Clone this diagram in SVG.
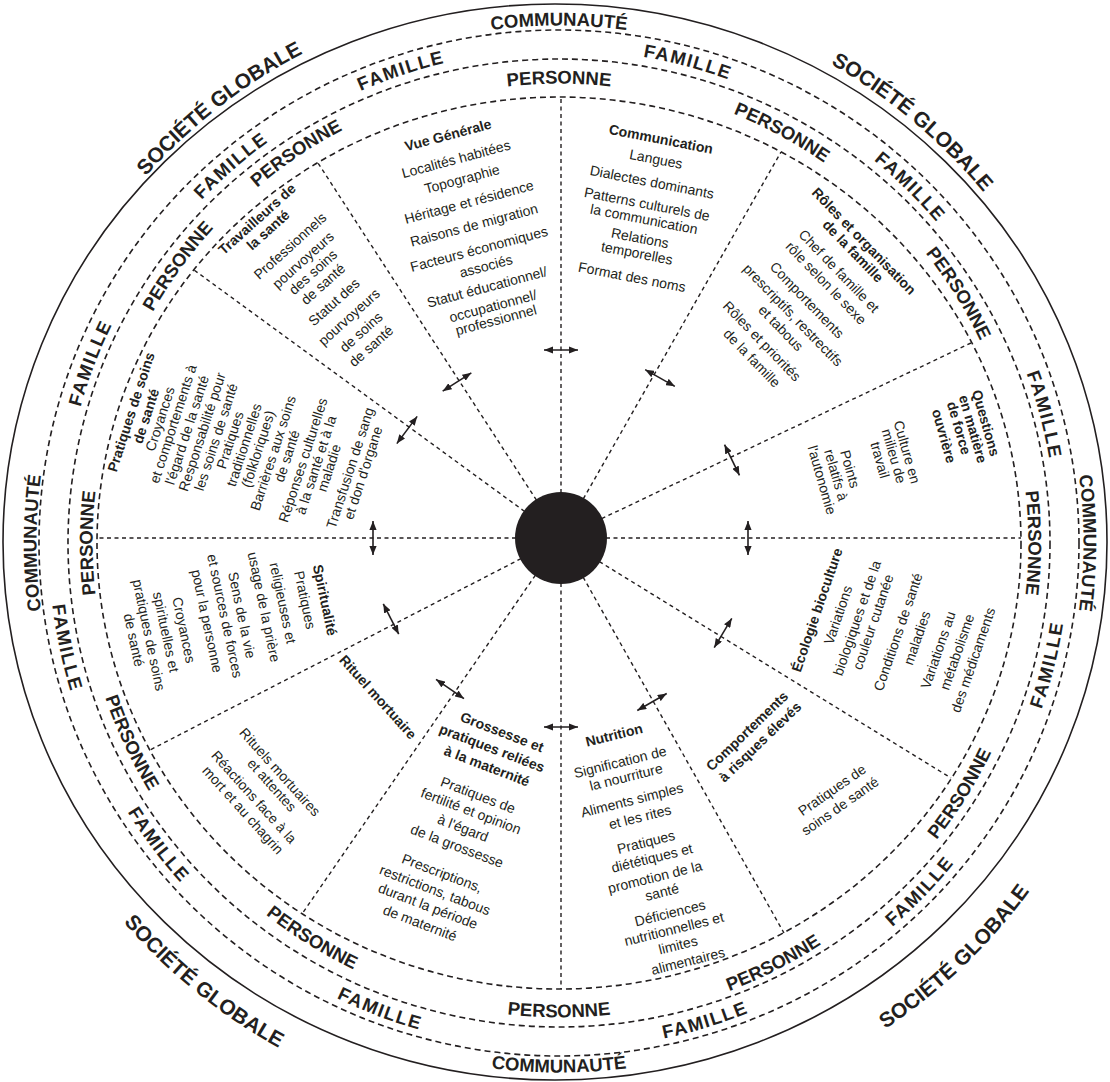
<svg xmlns="http://www.w3.org/2000/svg" width="1110" height="1082" viewBox="0 0 1110 1082">
<style>
.ring{fill:none;stroke:#231f20;stroke-width:1.6;stroke-dasharray:6 4}
.outer{fill:none;stroke:#231f20;stroke-width:1.6}
.spoke{stroke:#231f20;stroke-width:1.4;stroke-dasharray:4 3.5}
.arr{stroke:#231f20;stroke-width:1.6;marker-start:url(#ah);marker-end:url(#ah)}
.t{font-family:"Liberation Sans",Arial,sans-serif;font-size:14px;fill:#231f20;text-anchor:middle}
.b{font-weight:bold}
.lbl{font-family:"Liberation Sans",Arial,sans-serif;font-weight:bold;font-size:18.5px;fill:#231f20;text-anchor:middle}
.fam{letter-spacing:1.5px}
.soc{font-size:21px}
</style>
<defs>
<marker id="ah" viewBox="0 0 10 8" refX="10" refY="4" markerWidth="9" markerHeight="7.2" markerUnits="userSpaceOnUse" orient="auto-start-reverse"><path d="M0,0 L10,4 L0,8 z" fill="#231f20"/></marker>
<path id="so" d="M -557.5 0 A 557.5 557.5 0 0 1 557.5 0"/>
<path id="si" d="M -572.5 0 A 572.5 572.5 0 0 0 572.5 0"/>
<path id="co" d="M -518.5 0 A 518.5 518.5 0 0 1 518.5 0"/>
<path id="ci" d="M -531.5 0 A 531.5 531.5 0 0 0 531.5 0"/>
<path id="fo" d="M -493.5 0 A 493.5 493.5 0 0 1 493.5 0"/>
<path id="fi" d="M -506.5 0 A 506.5 506.5 0 0 0 506.5 0"/>
<path id="po" d="M -463.5 0 A 463.5 463.5 0 0 1 463.5 0"/>
<path id="pi" d="M -476.5 0 A 476.5 476.5 0 0 0 476.5 0"/>
</defs>
<rect width="1110" height="1082" fill="#fff"/>

<g id="rings">
<ellipse class="outer" cx="555" cy="542" rx="552" ry="538"/>
<ellipse class="ring" cx="559" cy="543" rx="520" ry="513"/>
<ellipse class="ring" cx="559" cy="543" rx="491" ry="484"/>
<ellipse class="ring" cx="559" cy="543" rx="462" ry="446"/>
</g>

<g id="ring-labels" transform="translate(559 543)">
<text class="lbl soc" transform="rotate(-38) translate(0 5)"><textPath href="#so" startOffset="50%">SOCIÉTÉ GLOBALE</textPath></text>
<text class="lbl soc" transform="rotate(40) translate(0 7)"><textPath href="#so" startOffset="50%">SOCIÉTÉ GLOBALE</textPath></text>
<text class="lbl soc" transform="rotate(39) translate(0 5)"><textPath href="#si" startOffset="50%">SOCIÉTÉ GLOBALE</textPath></text>
<text class="lbl soc" transform="rotate(-43.7) translate(0 13)"><textPath href="#si" startOffset="50%">SOCIÉTÉ GLOBALE</textPath></text>

<text class="lbl" transform="translate(0 1)"><textPath href="#co" startOffset="50%">COMMUNAUTÉ</textPath></text>
<text class="lbl" transform="rotate(90) translate(0 -6)"><textPath href="#co" startOffset="50%">COMMUNAUTÉ</textPath></text>
<text class="lbl" transform="rotate(-90) translate(0 -4)"><textPath href="#co" startOffset="50%">COMMUNAUTÉ</textPath></text>
<text class="lbl" transform="translate(0 -2)"><textPath href="#ci" startOffset="50%">COMMUNAUTÉ</textPath></text>

<text class="lbl fam" transform="rotate(-18.5)"><textPath href="#fo" startOffset="50%">FAMILLE</textPath></text>
<text class="lbl fam" transform="rotate(15)"><textPath href="#fo" startOffset="50%">FAMILLE</textPath></text>
<text class="lbl fam" transform="rotate(-41) translate(0 -2)"><textPath href="#fo" startOffset="50%">FAMILLE</textPath></text>
<text class="lbl fam" transform="rotate(44.6) translate(0 -2)"><textPath href="#fo" startOffset="50%">FAMILLE</textPath></text>
<text class="lbl fam" transform="rotate(-69) translate(0 -4)"><textPath href="#fo" startOffset="50%">FAMILLE</textPath></text>
<text class="lbl fam" transform="rotate(75.2) translate(0 -4)"><textPath href="#fo" startOffset="50%">FAMILLE</textPath></text>
<text class="lbl fam" transform="rotate(78) translate(0 4)"><textPath href="#fi" startOffset="50%">FAMILLE</textPath></text>
<text class="lbl fam" transform="rotate(-76) translate(0 4)"><textPath href="#fi" startOffset="50%">FAMILLE</textPath></text>
<text class="lbl fam" transform="rotate(53) translate(0 2)"><textPath href="#fi" startOffset="50%">FAMILLE</textPath></text>
<text class="lbl fam" transform="rotate(-46) translate(0 2)"><textPath href="#fi" startOffset="50%">FAMILLE</textPath></text>
<text class="lbl fam" transform="rotate(21)"><textPath href="#fi" startOffset="50%">FAMILLE</textPath></text>
<text class="lbl fam" transform="rotate(-17)"><textPath href="#fi" startOffset="50%">FAMILLE</textPath></text>

<text class="lbl" transform="translate(0 4)"><textPath href="#po" startOffset="50%">PERSONNE</textPath></text>
<text class="lbl" transform="rotate(28.5)"><textPath href="#po" startOffset="50%">PERSONNE</textPath></text>
<text class="lbl" transform="rotate(58) translate(0 -4)"><textPath href="#po" startOffset="50%">PERSONNE</textPath></text>
<text class="lbl" transform="rotate(90) translate(0 -6)"><textPath href="#po" startOffset="50%">PERSONNE</textPath></text>
<text class="lbl" transform="rotate(-58) translate(0 4)"><textPath href="#pi" startOffset="50%">PERSONNE</textPath></text>
<text class="lbl" transform="rotate(-27) translate(0 3)"><textPath href="#pi" startOffset="50%">PERSONNE</textPath></text>
<text class="lbl" transform="translate(0 -2)"><textPath href="#pi" startOffset="50%">PERSONNE</textPath></text>
<text class="lbl" transform="rotate(32) translate(0 -3)"><textPath href="#pi" startOffset="50%">PERSONNE</textPath></text>
<text class="lbl" transform="rotate(65) translate(0 3)"><textPath href="#pi" startOffset="50%">PERSONNE</textPath></text>
<text class="lbl" transform="rotate(-90) translate(0 -3)"><textPath href="#po" startOffset="50%">PERSONNE</textPath></text>
<text class="lbl" transform="rotate(-54) translate(0 -4)"><textPath href="#po" startOffset="50%">PERSONNE</textPath></text>
<text class="lbl" transform="rotate(-34) translate(0 -3)"><textPath href="#po" startOffset="50%">PERSONNE</textPath></text>
</g>

<g id="connectors">
<line class="spoke" x1="561" y1="538" x2="561" y2="97"/>
<line class="spoke" x1="561" y1="538" x2="781" y2="152"/>
<line class="spoke" x1="561" y1="538" x2="971" y2="343"/>
<line class="spoke" x1="561" y1="538" x2="1021" y2="538"/>
<line class="spoke" x1="561" y1="538" x2="951" y2="778"/>
<line class="spoke" x1="561" y1="538" x2="784" y2="933"/>
<line class="spoke" x1="561" y1="538" x2="561" y2="989"/>
<line class="spoke" x1="561" y1="538" x2="302" y2="914"/>
<line class="spoke" x1="561" y1="538" x2="150" y2="750"/>
<line class="spoke" x1="561" y1="538" x2="97" y2="538"/>
<line class="spoke" x1="561" y1="538" x2="194" y2="270"/>
<line class="spoke" x1="561" y1="538" x2="318" y2="163"/>
<g transform="translate(561 350)"><line class="arr" x1="-17" y1="0" x2="17" y2="0"/></g>
<g transform="translate(660 378) rotate(29.4)"><line class="arr" x1="-17" y1="0" x2="17" y2="0"/></g>
<g transform="translate(732 460) rotate(64)"><line class="arr" x1="-17" y1="0" x2="17" y2="0"/></g>
<g transform="translate(748 538) rotate(90)"><line class="arr" x1="-17" y1="0" x2="17" y2="0"/></g>
<g transform="translate(723 633) rotate(121)"><line class="arr" x1="-17" y1="0" x2="17" y2="0"/></g>
<g transform="translate(652 702) rotate(150)"><line class="arr" x1="-17" y1="0" x2="17" y2="0"/></g>
<g transform="translate(561 727)"><line class="arr" x1="-17" y1="0" x2="17" y2="0"/></g>
<g transform="translate(450 689) rotate(34.6)"><line class="arr" x1="-17" y1="0" x2="17" y2="0"/></g>
<g transform="translate(391 619) rotate(63)"><line class="arr" x1="-17" y1="0" x2="17" y2="0"/></g>
<g transform="translate(373 538) rotate(90)"><line class="arr" x1="-17" y1="0" x2="17" y2="0"/></g>
<g transform="translate(407 430) rotate(126.8)"><line class="arr" x1="-17" y1="0" x2="17" y2="0"/></g>
<g transform="translate(457 382) rotate(147.5)"><line class="arr" x1="-17" y1="0" x2="17" y2="0"/></g>
</g>

<g id="centre"><circle cx="561" cy="538" r="46" fill="#231f20"/></g>

<g id="vue-generale" class="t">
<text class="b" transform="translate(448 135) rotate(-15)" dy=".35em">Vue Générale</text>
<text transform="translate(456 159) rotate(-15)" dy=".35em">Localités habitées</text>
<text transform="translate(462 179) rotate(-15)" dy=".35em">Topographie</text>
<text transform="translate(469 202) rotate(-15)" dy=".35em">Héritage et résidence</text>
<text transform="translate(474 225) rotate(-15)" dy=".35em">Raisons de migration</text>
<text transform="translate(479 249) rotate(-15)" dy=".35em">Facteurs économiques</text>
<text transform="translate(486 266) rotate(-15)" dy=".35em">associés</text>
<text transform="translate(487 287) rotate(-15)" dy=".35em">Statut éducationnel/</text>
<text transform="translate(493 306) rotate(-15)" dy=".35em">occupationnel/</text>
<text transform="translate(496 320) rotate(-15)" dy=".35em">professionnel</text>
</g>

<g id="communication" class="t">
<text class="b" transform="translate(661 139) rotate(11)" dy=".35em">Communication</text>
<text transform="translate(656 159) rotate(11)" dy=".35em">Langues</text>
<text transform="translate(652 182) rotate(11)" dy=".35em">Dialectes dominants</text>
<text transform="translate(647 204) rotate(11)" dy=".35em">Patterns culturels de</text>
<text transform="translate(644 219) rotate(11)" dy=".35em">la communication</text>
<text transform="translate(640 238) rotate(11)" dy=".35em">Relations</text>
<text transform="translate(637 253) rotate(11)" dy=".35em">temporelles</text>
<text transform="translate(632 277) rotate(11)" dy=".35em">Format des noms</text>
</g>

<g id="roles-famille" class="t">
<text class="b" transform="translate(864 241) rotate(46)" dy=".35em">Rôles et organisation</text>
<text class="b" transform="translate(853 251) rotate(46)" dy=".35em">de la famille</text>
<text transform="translate(839 271) rotate(46)" dy=".35em">Chef de famille et</text>
<text transform="translate(826 283) rotate(46)" dy=".35em">rôle selon le sexe</text>
<text transform="translate(807 300) rotate(46)" dy=".35em">Comportements</text>
<text transform="translate(793 315) rotate(46)" dy=".35em">prescriptifs, restrectifs</text>
<text transform="translate(781 328) rotate(46)" dy=".35em">et tabous</text>
<text transform="translate(762 341) rotate(46)" dy=".35em">Rôles et priorités</text>
<text transform="translate(752 358) rotate(46)" dy=".35em">de la famille</text>
</g>

<g id="force-ouvriere" class="t">
<text class="b" transform="translate(986 423) rotate(74)" dy=".35em">Questions</text>
<text class="b" transform="translate(973 429) rotate(74)" dy=".35em">en matière</text>
<text class="b" transform="translate(959 428) rotate(74)" dy=".35em">de force</text>
<text class="b" transform="translate(944 436) rotate(74)" dy=".35em">ouvrière</text>
<text transform="translate(907 452) rotate(74)" dy=".35em">Culture en</text>
<text transform="translate(894 456) rotate(74)" dy=".35em">milieu de</text>
<text transform="translate(880 460) rotate(74)" dy=".35em">travail</text>
<text transform="translate(850 469) rotate(74)" dy=".35em">Points</text>
<text transform="translate(836 475) rotate(74)" dy=".35em">relatifs à</text>
<text transform="translate(822 480) rotate(74)" dy=".35em">l'autonomie</text>
</g>

<g id="ecologie" class="t">
<text class="b" transform="translate(817 610) rotate(-71)" dy=".35em">Écologie bioculture</text>
<text transform="translate(838 615) rotate(-71)" dy=".35em">Variations</text>
<text transform="translate(857 618) rotate(-71)" dy=".35em">biologiques et de la</text>
<text transform="translate(873 622) rotate(-71)" dy=".35em">couleur cutanée</text>
<text transform="translate(898 632) rotate(-71)" dy=".35em">Conditions de santé</text>
<text transform="translate(917 638) rotate(-71)" dy=".35em">maladies</text>
<text transform="translate(938 650) rotate(-71)" dy=".35em">Variations au</text>
<text transform="translate(957 652) rotate(-71)" dy=".35em">métabolisme</text>
<text transform="translate(973 660) rotate(-71)" dy=".35em">des médicaments</text>
</g>

<g id="comportements" class="t">
<text class="b" transform="translate(747 731) rotate(-44)" dy=".35em">Comportements</text>
<text class="b" transform="translate(760 742) rotate(-44)" dy=".35em">à risques élevés</text>
<text transform="translate(832 790) rotate(-35)" dy=".35em">Pratiques de</text>
<text transform="translate(840 806) rotate(-35)" dy=".35em">soins de santé</text>
</g>

<g id="nutrition" class="t">
<text class="b" transform="translate(614 735) rotate(-14)" dy=".35em">Nutrition</text>
<text transform="translate(620 762) rotate(-14)" dy=".35em">Signification de</text>
<text transform="translate(626 777) rotate(-14)" dy=".35em">la nourriture</text>
<text transform="translate(632 800) rotate(-14)" dy=".35em">Aliments simples</text>
<text transform="translate(640 817) rotate(-14)" dy=".35em">et les rites</text>
<text transform="translate(646 842) rotate(-14)" dy=".35em">Pratiques</text>
<text transform="translate(652 858) rotate(-14)" dy=".35em">diététiques et</text>
<text transform="translate(655 877) rotate(-14)" dy=".35em">promotion de la</text>
<text transform="translate(662 892) rotate(-14)" dy=".35em">santé</text>
<text transform="translate(670 913) rotate(-14)" dy=".35em">Déficiences</text>
<text transform="translate(674 929) rotate(-14)" dy=".35em">nutritionnelles et</text>
<text transform="translate(678 945) rotate(-14)" dy=".35em">limites</text>
<text transform="translate(688 961) rotate(-14)" dy=".35em">alimentaires</text>
</g>

<g id="grossesse" class="t">
<text class="b" transform="translate(502 732) rotate(21)" dy=".35em">Grossesse et</text>
<text class="b" transform="translate(492 748) rotate(21)" dy=".35em">pratiques reliées</text>
<text class="b" transform="translate(487 766) rotate(21)" dy=".35em">à la maternité</text>
<text transform="translate(478 795) rotate(21)" dy=".35em">Pratiques de</text>
<text transform="translate(471 811) rotate(21)" dy=".35em">fertilité et opinion</text>
<text transform="translate(463 828) rotate(21)" dy=".35em">à l'égard</text>
<text transform="translate(457 846) rotate(21)" dy=".35em">de la grossesse</text>
<text transform="translate(442 873) rotate(21)" dy=".35em">Prescriptions,</text>
<text transform="translate(435 890) rotate(21)" dy=".35em">restrictions, tabous</text>
<text transform="translate(428 906) rotate(21)" dy=".35em">durant la période</text>
<text transform="translate(420 923) rotate(21)" dy=".35em">de maternité</text>
</g>

<g id="rituel" class="t">
<text class="b" transform="translate(378 697) rotate(48)" dy=".35em">Rituel mortuaire</text>
<text transform="translate(280 772) rotate(48)" dy=".35em">Rituels mortuaires</text>
<text transform="translate(272 785) rotate(48)" dy=".35em">et attentes</text>
<text transform="translate(254 797) rotate(48)" dy=".35em">Réactions face à la</text>
<text transform="translate(243 810) rotate(48)" dy=".35em">mort et au chagrin</text>
</g>

<g id="spiritualite" class="t">
<text class="b" transform="translate(325 600) rotate(78)" dy=".35em">Spiritualité</text>
<text transform="translate(305 600) rotate(78)" dy=".35em">Pratiques</text>
<text transform="translate(283 603) rotate(78)" dy=".35em">religieuses et</text>
<text transform="translate(264 607) rotate(78)" dy=".35em">usage de la prière</text>
<text transform="translate(242 615) rotate(78)" dy=".35em">Sens de la vie</text>
<text transform="translate(225 616) rotate(78)" dy=".35em">et sources de forces</text>
<text transform="translate(207 621) rotate(78)" dy=".35em">pour la personne</text>
<text transform="translate(184 630) rotate(78)" dy=".35em">Croyances</text>
<text transform="translate(166 632) rotate(78)" dy=".35em">spirituelles et</text>
<text transform="translate(149 635) rotate(78)" dy=".35em">pratiques de soins</text>
<text transform="translate(134 640) rotate(78)" dy=".35em">de santé</text>
</g>

<g id="pratiques-soins" class="t">
<text class="b" transform="translate(131 412) rotate(-72)" dy=".35em">Pratiques de soins</text>
<text class="b" transform="translate(146 416) rotate(-72)" dy=".35em">de santé</text>
<text transform="translate(160 419) rotate(-72)" dy=".35em">Croyances</text>
<text transform="translate(173 424) rotate(-72)" dy=".35em">et comportements à</text>
<text transform="translate(187 430) rotate(-72)" dy=".35em">l'égard de la santé</text>
<text transform="translate(202 432) rotate(-72)" dy=".35em">Responsabilité pour</text>
<text transform="translate(216 437) rotate(-72)" dy=".35em">les soins de santé</text>
<text transform="translate(230 440) rotate(-72)" dy=".35em">Pratiques</text>
<text transform="translate(244 445) rotate(-72)" dy=".35em">traditionnelles</text>
<text transform="translate(258 449) rotate(-72)" dy=".35em">(folkloriques)</text>
<text transform="translate(273 453) rotate(-72)" dy=".35em">Barrières aux soins</text>
<text transform="translate(287 456) rotate(-72)" dy=".35em">de santé</text>
<text transform="translate(303 460) rotate(-72)" dy=".35em">Réponses culturelles</text>
<text transform="translate(316 465) rotate(-72)" dy=".35em">à la santé et à la</text>
<text transform="translate(329 468) rotate(-72)" dy=".35em">maladie</text>
<text transform="translate(350 468) rotate(-72)" dy=".35em">Transfusion de sang</text>
<text transform="translate(363 473) rotate(-72)" dy=".35em">et don d'organe</text>
</g>

<g id="travailleurs" class="t">
<text class="b" transform="translate(257 219) rotate(-42)" dy=".35em">Travailleurs de</text>
<text class="b" transform="translate(268 230) rotate(-42)" dy=".35em">la santé</text>
<text transform="translate(290 246) rotate(-42)" dy=".35em">Professionnels</text>
<text transform="translate(303 260) rotate(-42)" dy=".35em">pourvoyeurs</text>
<text transform="translate(313 272) rotate(-42)" dy=".35em">des soins</text>
<text transform="translate(323 284) rotate(-42)" dy=".35em">de santé</text>
<text transform="translate(334 302) rotate(-42)" dy=".35em">Statut des</text>
<text transform="translate(349 317) rotate(-42)" dy=".35em">pourvoyeurs</text>
<text transform="translate(361 332) rotate(-42)" dy=".35em">de soins</text>
<text transform="translate(371 346) rotate(-42)" dy=".35em">de santé</text>
</g>
</svg>
